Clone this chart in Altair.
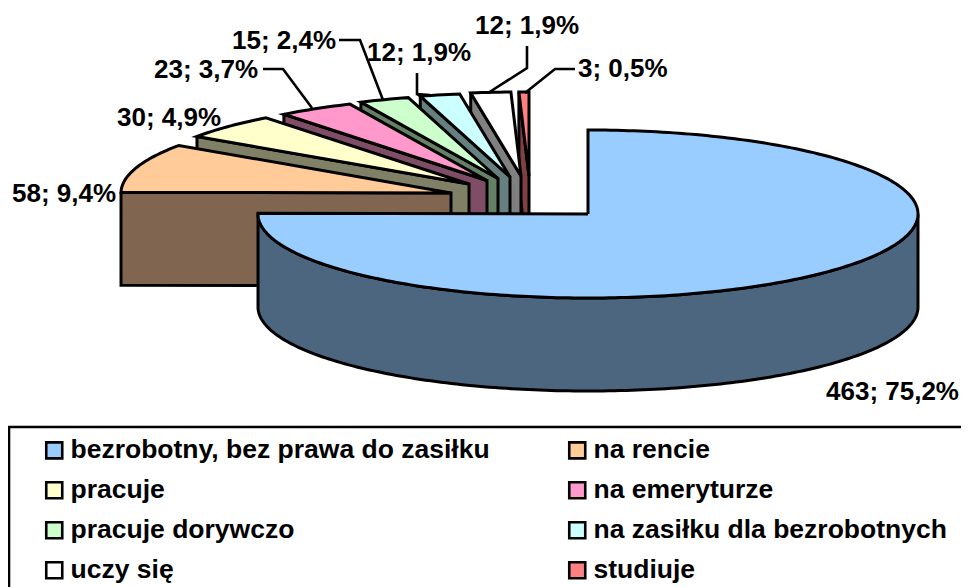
import math
import altair as alt
import pandas as pd

# --- data ---
categories = ["bezrobotny, bez prawa do zasiłku", "na rencie", "pracuje", "na emeryturze",
              "pracuje dorywczo", "na zasiłku dla bezrobotnych", "uczy się", "studiuje"]
counts = [463, 58, 30, 23, 15, 12, 12, 3]
top_colors = ["#99CCFF", "#FFCC99", "#FFFFCC", "#FF99CC", "#CCFFCC", "#CCFFFF", "#FFFFFF", "#FF8080"]
side_colors = ["#4D6680", "#806650", "#808066", "#804D66", "#668066", "#668080", "#808080", "#804040"]

# --- layout of the tilted, exploded pie (page pixels) ---
apex_x = [588, 451, 469, 487, 498, 510, 521, 529]
apex_y = [214, 193, 184, 180.5, 178.5, 177, 176, 176]
RX, RY, DEPTH = 330, 84, 93
label_x = [826, 12, 117, 154, 232, 367, 475, 578]
label_y = [392, 194, 118, 70, 41, 53, 26, 69]
leaders = [
    [(263, 69), (283, 69), (312, 108)],
    [(339, 40), (360, 40), (383, 100)],
    [(417, 73), (417, 94), (430, 95)],
    [(527, 46), (527, 68), (488, 93)],
    [(575, 69), (555, 69), (525, 93)],
]
box = [(9, 587), (9, 427), (961, 427)]

total = sum(counts)
starts, ang = [], 0.0
for c in counts:
    starts.append(ang)
    ang += 360.0 * c / total


def rim(i, deg, drop=0.0):
    t = math.radians(deg)
    return apex_x[i] + RX * math.sin(t), apex_y[i] - RY * math.cos(t) + drop


rows, pid = [], 0


def polygon(points, fill):
    global pid
    pts = list(points) + [points[0]]
    for n, (px, py) in enumerate(pts):
        rows.append({"px": px, "py": py, "n": n, "pid": pid, "fill": fill})
    pid += 1


n_slices = len(counts)
for i in range(n_slices - 1, -1, -1):
    a0 = starts[i]
    sweep = 360.0 * counts[i] / total
    steps = max(4, int(sweep))
    arc = [a0 + sweep * k / steps for k in range(steps + 1)]
    if i == 0:
        # the front wall of the big slice, seen from 90 deg round to its end
        front = [a for a in arc if a >= 90]
        wall = [rim(i, a) for a in front] + [rim(i, a, DEPTH) for a in reversed(front)]
        polygon(wall, side_colors[i])
    else:
        ox, oy = rim(i, a0)
        wall = [(ox, oy), (apex_x[i], apex_y[i]), (apex_x[i], apex_y[i] + DEPTH), (ox, oy + DEPTH)]
        polygon(wall, side_colors[i])
    polygon([(apex_x[i], apex_y[i])] + [rim(i, a) for a in arc], top_colors[i])

poly_df = pd.DataFrame(rows)

x_scale = alt.Scale(domain=[8, 961], nice=False, zero=False)
y_scale = alt.Scale(domain=[587, 8], nice=False, zero=False)
X = alt.X("px:Q", scale=x_scale, axis=None)
Y = alt.Y("py:Q", scale=y_scale, axis=None)

faces = alt.Chart(poly_df).mark_line(strokeWidth=3, color="#000000", strokeJoin="miter").encode(
    x=X, y=Y, order=alt.Order("n:Q"), detail="pid:N",
    fill=alt.Fill("fill:N", scale=None),
    stroke=alt.value("#000000"),
)

line_rows = []
for k, path in enumerate(leaders + [box]):
    for n, (px, py) in enumerate(path):
        line_rows.append({"px": px, "py": py, "n": n, "pid": k})
line_df = pd.DataFrame(line_rows)
lines = alt.Chart(line_df).mark_line(strokeWidth=2.6, color="#000000", strokeJoin="miter").encode(
    x=X, y=Y, order=alt.Order("n:Q"), detail="pid:N"
)


def label(c):
    return f"{c}; {100.0 * c / total:.1f}%".replace(".", ",")


text_df = pd.DataFrame({"px": label_x, "py": label_y, "t": [label(c) for c in counts]})
texts = alt.Chart(text_df).mark_text(
    font="Liberation Sans", fontWeight="bold", fontSize=26, align="left", baseline="middle", color="#000000"
).encode(x=X, y=Y, text="t:N")

legend_df = pd.DataFrame({"cat": categories, "count": counts, "px": [588] * n_slices, "py": [214] * n_slices})
keys = alt.Chart(legend_df).mark_square(size=0, opacity=0).encode(
    x=X, y=Y,
    color=alt.Color(
        "cat:N",
        scale=alt.Scale(domain=categories, range=top_colors),
        legend=alt.Legend(
            title=None, orient="none", legendX=33, legendY=429, columns=2, padding=0, direction="horizontal",
            symbolType="square", symbolSize=256, symbolStrokeColor="#000000", symbolStrokeWidth=2.6,
            symbolOpacity=1, labelFont="Liberation Sans", labelFontWeight="bold", labelFontSize=26.5,
            labelColor="#000000", labelLimit=600, labelOffset=3, rowPadding=13, columnPadding=74,
            gridAlign="each",
        ),
    ),
)

chart = alt.layer(faces, keys, lines, texts).properties(
    width=953, height=579, padding=0, autosize=alt.AutoSizeParams(type="none")
).configure_view(stroke=None)

chart.save("out.html", embed_options={"renderer": "svg", "actions": False})
